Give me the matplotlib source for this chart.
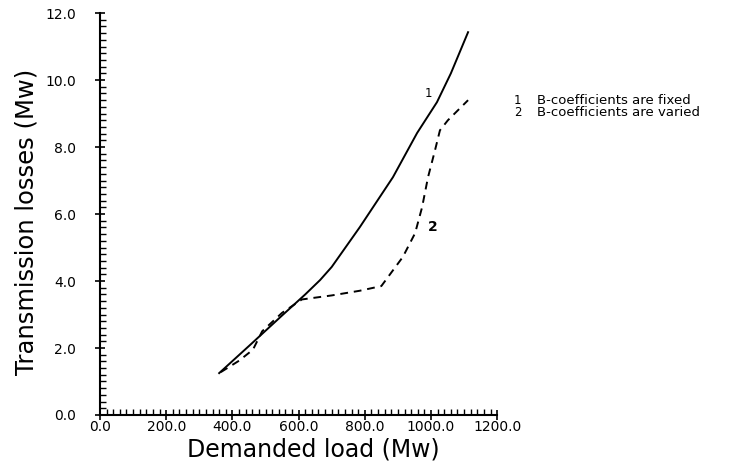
import matplotlib
matplotlib.use("Agg")
import matplotlib.pyplot as plt
from matplotlib.ticker import MultipleLocator, FormatStrFormatter

# Curve 1: B-coefficients fixed (solid)
load_fixed = [360, 450, 550, 620, 665, 700, 785, 885, 958, 1018, 1060, 1112]
loss_fixed = [1.25, 2.06, 2.97, 3.6, 4.03, 4.42, 5.61, 7.1, 8.42, 9.34, 10.2, 11.43]

# Curve 2: B-coefficients varied (dashed)
load_varied = [365, 420, 462, 490, 550, 610, 700, 785, 850, 915, 952, 973, 991, 1012, 1027, 1051, 1112]
loss_varied = [1.28, 1.62, 1.95, 2.5, 3.05, 3.45, 3.57, 3.71, 3.85, 4.72, 5.43, 6.2, 7.1, 7.9, 8.5, 8.8, 9.4]

legend_lines = ["B-coefficients are fixed", "B-coefficients are varied"]

fig = plt.figure(figsize=(7.48, 4.63), dpi=100)
ax = fig.add_axes([0.1337, 0.1037, 0.531, 0.868])

ax.plot(load_fixed, loss_fixed, color="black", linewidth=1.4)
ax.plot(load_varied, loss_varied, color="black", linewidth=1.4, linestyle=(0, (4, 3)))

ax.set_xlim(0, 1200)
ax.set_ylim(0, 12)

ax.spines["top"].set_visible(False)
ax.spines["right"].set_visible(False)
ax.spines["left"].set_linewidth(1.5)
ax.spines["bottom"].set_linewidth(1.5)

ax.xaxis.set_major_locator(MultipleLocator(200))
ax.xaxis.set_minor_locator(MultipleLocator(20))
ax.yaxis.set_major_locator(MultipleLocator(2))
ax.yaxis.set_minor_locator(MultipleLocator(0.2))
ax.xaxis.set_major_formatter(FormatStrFormatter("%.1f"))
ax.yaxis.set_major_formatter(FormatStrFormatter("%.1f"))
ax.tick_params(which="major", direction="inout", length=7, width=1.2, labelsize=10)
ax.tick_params(axis="y", which="major", pad=14)
ax.tick_params(axis="x", which="major", pad=0)
ax.tick_params(which="minor", direction="in", length=4, width=1.0)

ax.set_xlabel("Demanded load (Mw)", fontsize=17)
ax.xaxis.set_label_coords(0.537, -0.055)
ax.set_ylabel("Transmission losses (Mw)", fontsize=17.5)
ax.yaxis.set_label_coords(-0.155, 0.48)

# curve labels
ax.text(991, 9.6, "1", fontsize=8.5, ha="center", va="center")
ax.text(1006, 5.6, "2", fontsize=10, fontweight="bold", ha="center", va="center")

# side legend
fig.text(0.692, 0.784, "1", fontsize=8.5, ha="center", va="center")
fig.text(0.692, 0.758, "2", fontsize=8.5, ha="center", va="center")
fig.text(0.718, 0.784, legend_lines[0], fontsize=9.5, va="center")
fig.text(0.718, 0.758, legend_lines[1], fontsize=9.5, va="center")

fig.savefig("out.png", dpi=100)
